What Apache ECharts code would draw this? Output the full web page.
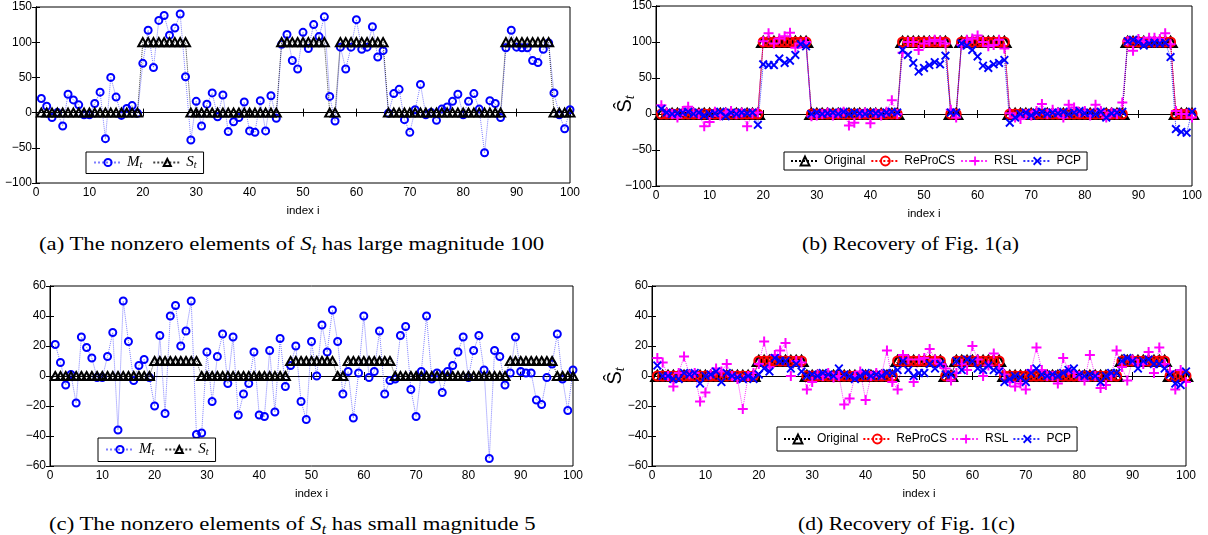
<!DOCTYPE html>
<html>
<head>
<meta charset="utf-8">
<script src="https://cdn.jsdelivr.net/npm/echarts@6/dist/echarts.min.js"></script>
<style>
  html, body { margin: 0; padding: 0; background: #fff; }
  body { position: relative; width: 1208px; height: 535px; overflow: hidden; }
  .panel { position: absolute; }
  .caption {
    position: absolute;
    font-family: "Liberation Serif", "Times New Roman", serif;
    font-size: 19.5px;
    line-height: 22px;
    color: #000;
    white-space: nowrap;
    transform: scaleX(1.11);
    transform-origin: left center;
  }
  .caption.wide { transform: scaleX(1.165); }
  .caption sub { font-size: 70%; vertical-align: -4px; line-height: 0; }
  .ylab {
    position: absolute;
    font-family: "Liberation Sans", Arial, sans-serif;
    font-size: 20px;
    line-height: 22px;
    color: #000;
    white-space: nowrap;
    transform: translate(-50%, -50%) rotate(-90deg);
  }
  .ylab sub {
    font-family: "Liberation Serif", serif;
    font-style: italic;
    font-size: 14px;
    vertical-align: -3px;
    line-height: 0;
  }
</style>
</head>
<body>
<div id="chartA" class="panel" style="left:0;top:0;width:600px;height:228px"></div>
<div id="chartB" class="panel" style="left:600px;top:0;width:608px;height:228px"></div>
<div id="chartC" class="panel" style="left:0;top:270px;width:600px;height:240px"></div>
<div id="chartD" class="panel" style="left:600px;top:270px;width:608px;height:240px"></div>

<div class="ylab" style="left:624px;top:104px">Ŝ<sub>t</sub></div>
<div class="ylab" style="left:614px;top:376px">Ŝ<sub>t</sub></div>

<div class="caption wide" style="left:39px;top:233px">(a) The nonzero elements of <i>S</i><sub><i>t</i></sub> has large magnitude 100</div>
<div class="caption" style="left:802px;top:233px">(b) Recovery of Fig. 1(a)</div>
<div class="caption wide" style="left:49px;top:513px">(c) The nonzero elements of <i>S</i><sub><i>t</i></sub> has small magnitude 5</div>
<div class="caption" style="left:798px;top:513px">(d) Recovery of Fig. 1(c)</div>

<script>
// 横轴: 索引 1..100
const index = Array.from({ length: 100 }, (_, k) => k + 1);
const xTicks = [0, 10, 20, 30, 40, 50, 60, 70, 80, 90, 100];
const yTicksLarge = [-100, -50, 0, 50, 100, 150];
const yTicksSmall = [-60, -40, -20, 0, 20, 40, 60];

// 稀疏分量 S_t (幅值 100)
const sLarge = [
  0, 0, 0, 0, 0, 0, 0, 0, 0, 0,
  0, 0, 0, 0, 0, 0, 0, 0, 0, 100,
  100, 100, 100, 100, 100, 100, 100, 100, 0, 0,
  0, 0, 0, 0, 0, 0, 0, 0, 0, 0,
  0, 0, 0, 0, 0, 100, 100, 100, 100, 100,
  100, 100, 100, 100, 0, 0, 100, 100, 100, 100,
  100, 100, 100, 100, 100, 0, 0, 0, 0, 0,
  0, 0, 0, 0, 0, 0, 0, 0, 0, 0,
  0, 0, 0, 0, 0, 0, 0, 100, 100, 100,
  100, 100, 100, 100, 100, 100, 0, 0, 0, 0
];

// 稀疏分量 S_t (小幅值)
const sSmall = [
  0, 0, 0, 0, 0, 0, 0, 0, 0, 0,
  0, 0, 0, 0, 0, 0, 0, 0, 0, 10,
  10, 10, 10, 10, 10, 10, 10, 10, 0, 0,
  0, 0, 0, 0, 0, 0, 0, 0, 0, 0,
  0, 0, 0, 0, 0, 10, 10, 10, 10, 10,
  10, 10, 10, 10, 0, 0, 10, 10, 10, 10,
  10, 10, 10, 10, 10, 0, 0, 0, 0, 0,
  0, 0, 0, 0, 0, 0, 0, 0, 0, 0,
  0, 0, 0, 0, 0, 0, 0, 10, 10, 10,
  10, 10, 10, 10, 10, 10, 0, 0, 0, 0
];

// 观测 M_t (图 a)
const mLarge = [
  20, 9, -7, 0, -19, 26, 18, 11, -3, -3,
  13, 29, -37, 50, 22, -4, 6, 10, -1, 70,
  117, 64, 131, 138, 110, 120, 140, 51, -39, 16,
  -19, 12, 28, -6, 25, -27, -13, -7, 15, -26,
  -28, 17, -26, 24, -8, 97, 111, 74, 62, 114,
  91, 125, 108, 136, 23, -12, 93, 62, 93, 132,
  90, 93, 122, 79, 88, -1, 27, 33, -10, -28,
  4, 40, -3, 0, -11, 5, 8, 16, 26, -3,
  16, 27, 5, -57, 17, 13, -7, 92, 117, 93,
  92, 92, 74, 71, 90, 99, 28, -3, -23, 4
];

// 观测 M_t (图 c)
const mSmall = [
  21, 9, -6, 1, -18, 26, 19, 12, -1, -1,
  13, 29, -36, 50, 23, -3, 7, 11, -1, -20,
  27, -25, 40, 47, 20, 30, 50, -39, -38, 16,
  -17, 13, 28, -5, 26, -26, -12, -5, 16, -26,
  -27, 17, -24, 25, -7, 7, 20, -17, -29, 23,
  0, 34, 16, 44, 23, -12, 3, -28, 2, 40,
  -1, 3, 30, -12, -3, -2, 27, 33, -9, -27,
  3, 40, -2, 2, -11, 3, 7, 16, 26, -1,
  17, 27, 4, -55, 17, 13, -6, 2, 26, 3,
  2, 2, -16, -19, -1, 8, 28, -2, -23, 4
];

// 恢复结果 (图 b): ReProCS 与原始值重合
const reprocsLarge = sLarge;
const rslLarge = [
  12, 2, 0, -5, 4, 10, 2, 0, -17, -11,
  3, -2, 2, 4, 0, 2, -17, 1, 2, 101,
  112, 98, 105, 108, 113, 92, 98, 100, -3, -2,
  0, 2, -2, 1, 3, -16, -12, 0, 2, -13,
  1, -2, 3, 19, 0, 85, 100, 100, 89, 98,
  101, 103, 101, 98, 6, -5, 96, 103, 105, 109,
  100, 94, 96, 103, 91, 1, -5, -7, 0, -2,
  4, 14, 0, 6, 2, -5, 13, 9, 2, 4,
  -2, 13, 4, -5, 2, 0, 16, 101, 88, 104,
  101, 106, 106, 104, 112, 97, 4, 0, 0, -5
];
const pcpLarge = [
  7, 2, 0, 1, 2, 3, 0, 2, -2, 0,
  1, 3, -3, 2, 0, 2, 1, 2, -15, 69,
  68, 68, 77, 71, 74, 82, 97, 94, 0, 2,
  0, 1, 2, 0, 3, 0, 2, 1, 0, 2,
  1, 0, 2, 3, 2, 89, 82, 71, 59, 64,
  68, 72, 69, 81, 2, 2, 98, 95, 89, 80,
  67, 64, 69, 71, 75, -12, -5, 0, 2, -2,
  2, 3, 0, 2, 1, 3, 0, 2, 4, 1,
  2, 0, 3, -5, 1, 2, 3, 101, 103, 100,
  95, 98, 99, 98, 99, 79, -21, -25, -26, 3
];

// 恢复结果 (图 d)
const reprocsSmall = sSmall;
const rslSmall = [
  12, 9, 0, -7, 2, 13, 1, 2, -17, -11,
  1, 5, 3, 8, 0, -2, -22, 0, 2, 8,
  23, 6, 14, 17, 22, 0, 10, 9, -9, -4,
  1, 0, 2, -1, 0, -19, -15, 0, 3, -16,
  0, 2, 1, 17, -4, -9, 14, 11, -4, 11,
  12, 18, 11, 8, 5, -3, 2, 8, 4, 20,
  11, 0, 7, 15, 5, 1, -4, -7, -5, -9,
  4, 19, 4, 0, 0, -5, 12, 4, 2, 0,
  -3, 14, 0, -8, -6, 0, 17, 6, -3, 11,
  8, 8, 16, 2, 19, 8, 3, -9, 4, -4
];
const pcpSmall = [
  7, 0, 0, -2, -2, 2, 1, 2, -5, 0,
  1, 3, -4, 2, 0, -1, -2, 0, -2, 1,
  5, 3, 12, 10, 10, 5, 8, 3, 0, 1,
  0, 2, 1, 0, 5, 1, 0, -2, 0, 2,
  0, 1, 0, 2, 2, 4, 10, 4, 0, 2,
  2, 8, 5, 8, 1, 1, 10, 4, 11, 10,
  5, 4, 7, 4, 3, -4, -2, 0, -1, -4,
  2, 5, 1, 0, 1, 0, 2, 4, 5, 1,
  0, 1, 0, -4, 0, 2, 2, 10, 12, 10,
  5, 10, 11, 8, 8, 5, 1, -5, -6, 3
];

const FONT = '"Liberation Sans", Arial, sans-serif';
const MATH = '"Liberation Serif", "DejaVu Serif", serif';
const PLUS = 'path://M4,0H6V4H10V6H6V10H4V6H0V4H4Z';
const CROSS = 'path://M1.5,0L5,3.5L8.5,0L10,1.5L6.5,5L10,8.5L8.5,10L5,6.5L1.5,10L0,8.5L3.5,5L0,1.5Z';

function pairs(vals) {
  return index.map((x, k) => [x, vals[k]]);
}

// 各系列的标记样式
const styles = {
  M_t: { symbol: 'circle', symbolSize: 7, itemStyle: { color: 'rgba(0,0,0,0)', borderColor: '#0000ff', borderWidth: 2 }, line: 'rgba(40,40,255,0.6)' },
  S_t: { symbol: 'triangle', symbolSize: [9, 8], itemStyle: { color: 'rgba(0,0,0,0)', borderColor: '#000', borderWidth: 2 }, line: 'rgba(0,0,0,0.75)' },
  Original: { symbol: 'triangle', symbolSize: [12, 10], itemStyle: { color: 'rgba(0,0,0,0)', borderColor: '#000', borderWidth: 2.2 }, line: '#000' },
  ReProCS: { symbol: 'circle', symbolSize: 9, itemStyle: { color: 'rgba(0,0,0,0)', borderColor: '#ff0000', borderWidth: 2 }, line: '#ff0000' },
  RSL: { symbol: PLUS, symbolSize: 10, itemStyle: { color: '#ff00ff', borderWidth: 0 }, line: 'rgba(255,0,255,0.8)' },
  PCP: { symbol: CROSS, symbolSize: 9, itemStyle: { color: '#0000ff', borderWidth: 0 }, line: 'rgba(0,0,255,0.8)' }
};

function makeSeries(name, vals) {
  const st = styles[name];
  return {
    name: name,
    type: 'line',
    data: pairs(vals),
    symbol: st.symbol,
    symbolSize: st.symbolSize,
    showAllSymbol: true,
    clip: false,
    itemStyle: st.itemStyle,
    lineStyle: { color: st.line, width: 1, type: 'dotted' },
    emphasis: { disabled: true }
  };
}

// 负号用 U+2212
const minusFmt = v => String(v).replace('-', '\u2212');

function buildPanel(id, cfg) {
  const chart = echarts.init(document.getElementById(id));
  const yt = cfg.yTicks;
  const tick = { inside: true, length: 4, lineStyle: { color: '#000', width: 1 } };
  const line = { show: true, lineStyle: { color: '#000', width: 1 } };
  const label = { color: '#000', fontSize: 12, fontFamily: FONT, margin: 4, formatter: minusFmt };
  const xBase = { type: 'value', min: xTicks[0], max: xTicks[xTicks.length - 1], interval: xTicks[1] - xTicks[0], splitLine: { show: false }, axisLine: line, axisTick: tick };
  const yBase = { type: 'value', min: yt[0], max: yt[yt.length - 1], interval: yt[1] - yt[0], splitLine: { show: false }, axisLine: line, axisTick: tick };

  const isMath = cfg.math;
  chart.setOption({
    animation: false,
    textStyle: { fontFamily: FONT },
    grid: Object.assign({ show: true, borderColor: '#000', borderWidth: 1, backgroundColor: 'transparent', outerBoundsMode: 'none' }, cfg.grid),
    legend: {
      left: cfg.legend.left,
      top: cfg.legend.top,
      orient: 'horizontal',
      padding: cfg.legend.padding,
      itemWidth: cfg.legend.itemWidth,
      itemHeight: cfg.legend.itemHeight,
      itemGap: cfg.legend.itemGap,
      borderColor: '#000',
      borderWidth: 1,
      borderRadius: 0,
      backgroundColor: '#fff',
      selectedMode: false,
      data: cfg.series.map(s => s[0]),
      formatter: isMath ? (n => '{v|' + n[0] + '}{s|' + n.slice(2) + '}') : undefined,
      textStyle: isMath ? {
        color: '#000',
        rich: {
          v: { fontFamily: MATH, fontStyle: 'italic', fontSize: 15, lineHeight: 16, color: '#000' },
          s: { fontFamily: MATH, fontStyle: 'italic', fontSize: 10, lineHeight: 10, verticalAlign: 'bottom', color: '#000' }
        }
      } : { color: '#000', fontSize: 12, fontFamily: FONT }
    },
    xAxis: [
      Object.assign({}, xBase, {
        position: 'bottom',
        axisLabel: label,
        name: 'index i',
        nameLocation: 'middle',
        nameGap: 22,
        nameTextStyle: { color: '#000', fontSize: 11.5, fontFamily: FONT }
      }),
      Object.assign({}, xBase, { position: 'top', axisLabel: { show: false } })
    ],
    yAxis: [
      Object.assign({}, yBase, { position: 'left', axisLabel: label }),
      Object.assign({}, yBase, { position: 'right', axisLabel: { show: false } })
    ],
    series: cfg.series.map(s => makeSeries(s[0], s[1]))
  });
  return chart;
}

buildPanel('chartA', {
  grid: { left: 36, top: 7, width: 534, height: 176 },
  yTicks: yTicksLarge,
  math: true,
  legend: { left: 86, top: 152, padding: [3, 7], itemWidth: 28, itemHeight: 9, itemGap: 10 },
  series: [['M_t', mLarge], ['S_t', sLarge]]
});

buildPanel('chartB', {
  grid: { left: 56, top: 6, width: 536, height: 180 },
  yTicks: yTicksLarge,
  legend: { left: 184, top: 152, padding: [3, 6], itemWidth: 28, itemHeight: 11, itemGap: 5 },
  series: [['Original', sLarge], ['ReProCS', reprocsLarge], ['RSL', rslLarge], ['PCP', pcpLarge]]
});

buildPanel('chartC', {
  grid: { left: 50, top: 16, width: 523, height: 180 },
  yTicks: yTicksSmall,
  math: true,
  legend: { left: 98, top: 168, padding: [4, 7], itemWidth: 28, itemHeight: 9, itemGap: 10 },
  series: [['M_t', mSmall], ['S_t', sSmall]]
});

buildPanel('chartD', {
  grid: { left: 52, top: 16, width: 534, height: 180 },
  yTicks: yTicksSmall,
  legend: { left: 177, top: 157, padding: [6, 6], itemWidth: 28, itemHeight: 11, itemGap: 4 },
  series: [['Original', sSmall], ['ReProCS', reprocsSmall], ['RSL', rslSmall], ['PCP', pcpSmall]]
});
</script>
</body>
</html>
